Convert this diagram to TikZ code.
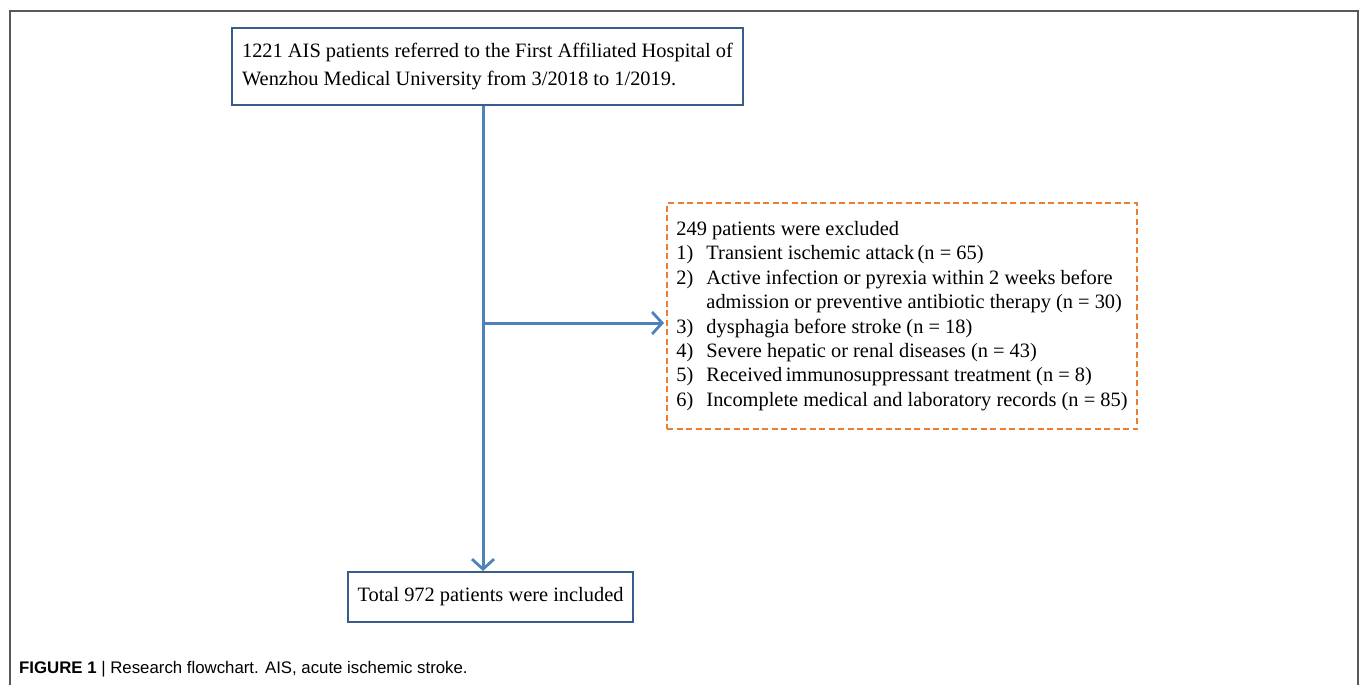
\documentclass[tikz,border=0pt]{standalone}
\usepackage{fontspec}
\setmainfont{Liberation Serif}
\newfontfamily\capfont{Liberation Sans}
\usetikzlibrary{arrows.meta}

\definecolor{boxblue}{HTML}{385D8A}
\definecolor{lineblue}{HTML}{4F81BD}
\definecolor{exclorange}{HTML}{ED7D31}
\newcommand{\itm}[1]{\makebox[30pt][l]{#1}}

\begin{document}
\begin{tikzpicture}[x=1pt,y=-1pt,
    flowbox/.style={draw=boxblue,line width=2pt,fill=white,align=left,
      font=\fontsize{20.4}{27.5}\selectfont,inner xsep=0pt},
    exclbox/.style={draw=exclorange,line width=2pt,dashed,dash pattern=on 6pt off 3.5pt,
      align=left,font=\fontsize{20.4}{24.4}\selectfont,inner xsep=0pt},
    flowline/.style={draw=lineblue,line width=3pt,-{Straight Barb[length=10pt,width=22pt,line width=2.8pt]}}]
  \useasboundingbox (0,0) rectangle (1359,685);

  % frame
  \draw[black!65,line width=2pt] (10,685) -- (10,11) -- (1358,11) -- (1358,685);

  \node[flowbox,minimum width=511pt,minimum height=77pt] (start) at (487.5,66.5)
    {1221 AIS patients referred to the First Affiliated Hospital of\\
     Wenzhou Medical University\ from 3/2018 to 1/2019.};
  \node[flowbox,minimum width=285pt,minimum height=50pt,align=center] (total) at (490.5,597)
    {Total 972 patients were included};
  \node[exclbox,minimum width=470pt,minimum height=226pt] (excl) at (902,316)
    {249 patients were excluded\\
     \itm{1)}Transient ischemic attack\,(n = 65)\\
     \itm{2)}Active infection or pyrexia within 2 weeks before\\
     \itm{}admission or preventive antibiotic therapy (n = 30)\\
     \itm{3)}dysphagia before stroke (n = 18)\\
     \itm{4)}Severe hepatic or renal diseases (n = 43)\\
     \itm{5)}Received\,immunosuppressant\ treatment (n = 8)\\
     \itm{6)}Incomplete medical and laboratory records (n = 85)};

  \coordinate (split) at (483,323);
  \draw[flowline] (start.south -| split) -- (total.north -| split);
  \draw[flowline] (split) -- ([xshift=-2pt]excl.west |- split);

  % caption
  \node[anchor=base west,inner sep=0pt,font=\capfont\fontsize{16.8}{19}\selectfont] (cap) at (19,673)
    {\textbf{FIGURE 1} | Research flowchart. AIS, acute ischemic stroke.};
\end{tikzpicture}
\end{document}
